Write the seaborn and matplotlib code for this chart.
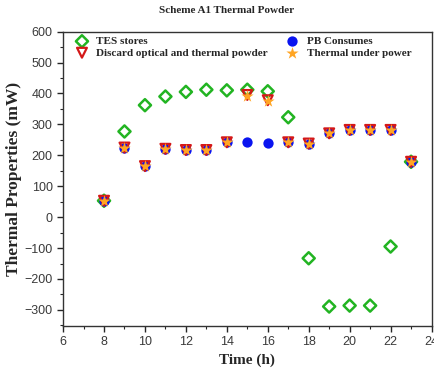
import matplotlib
matplotlib.use("Agg")
import matplotlib.pyplot as plt
import seaborn as sns
import pandas as pd
from matplotlib.ticker import MultipleLocator

hours = [8, 9, 10, 11, 12, 13, 14, 15, 16, 17, 18, 19, 20, 21, 22, 23]
tes_stores = [53, 277, 362, 390, 405, 412, 410, 412, 407, 323, -133, -289, -286, -286, -95, 179]
pb_consumes = [53, 225, 165, 221, 217, 217, 242, 242, 240, 242, 238, 271, 282, 282, 282, 179]
discard = [53, 225, 165, 221, 217, 217, 242, 395, 378, 242, 238, 271, 282, 282, 282, 179]
thermal_under = [53, 225, 165, 221, 217, 217, 242, 392, 375, 242, 238, 271, 282, 282, 282, 179]

df = pd.DataFrame({"h": hours, "tes": tes_stores, "pb": pb_consumes,
                   "dis": discard, "thu": thermal_under})

sns.set_style("white")
fig = plt.figure(figsize=(4.35, 3.76), dpi=100)
ax = fig.add_axes([0.145, 0.133, 0.847, 0.783])

sns.scatterplot(data=df, x="h", y="tes", ax=ax, marker="D", s=38,
                facecolor="none", edgecolor="#22b422", linewidth=1.8,
                label="TES stores", zorder=3)
sns.scatterplot(data=df, x="h", y="pb", ax=ax, marker="o", s=55,
                color="#0a14f0", edgecolor="#0a14f0", linewidth=0,
                label="PB Consumes", zorder=4)
sns.scatterplot(data=df, x="h", y="dis", ax=ax, marker="v", s=50,
                facecolor="none", edgecolor="#d41818", linewidth=1.6,
                label="Discard optical and thermal powder", zorder=5)
sns.scatterplot(data=df, x="h", y="thu", ax=ax, marker="*", s=85,
                color="#ffa524", edgecolor="#ffa524", linewidth=0,
                label="Thermal under power", zorder=6)

ax.set_xlim(6, 24)
ax.set_ylim(-352, 600)
ax.xaxis.set_major_locator(MultipleLocator(2))
ax.xaxis.set_minor_locator(MultipleLocator(1))
ax.yaxis.set_major_locator(MultipleLocator(100))
ax.yaxis.set_minor_locator(MultipleLocator(50))
ax.tick_params(axis="both", which="major", direction="out", length=4, width=1,
               labelsize=9, labelcolor="#3a3a3a", bottom=True, left=True)
ax.tick_params(axis="both", which="minor", direction="out", length=2, width=0.8,
               bottom=True, left=True)
for lab in ax.get_xticklabels() + ax.get_yticklabels():
    lab.set_fontfamily("Liberation Sans")
for sp in ax.spines.values():
    sp.set_color("#333333")
    sp.set_linewidth(1)

serif = "Liberation Serif"
ax.set_xlabel("Time (h)", fontfamily=serif, fontweight="bold", fontsize=11, labelpad=4)
ax.set_ylabel("Thermal Properties (mW)", fontfamily=serif, fontweight="bold", fontsize=12.5, labelpad=2)
fig.text(0.52, 0.972, "Scheme A1 Thermal Powder", ha="center", va="center",
         fontfamily=serif, fontweight="bold", fontsize=8)

h, l = ax.get_legend_handles_labels()
order = [0, 2, 1, 3]
leg = ax.legend([h[i] for i in order], [l[i] for i in order], ncol=2, loc="upper left",
                bbox_to_anchor=(0.0, 1.01), frameon=False, handletextpad=0.3,
                columnspacing=1.2, labelspacing=0.15, borderaxespad=0.3,
                prop={"family": serif, "weight": "bold", "size": 8})

fig.savefig("out.png", dpi=100)
